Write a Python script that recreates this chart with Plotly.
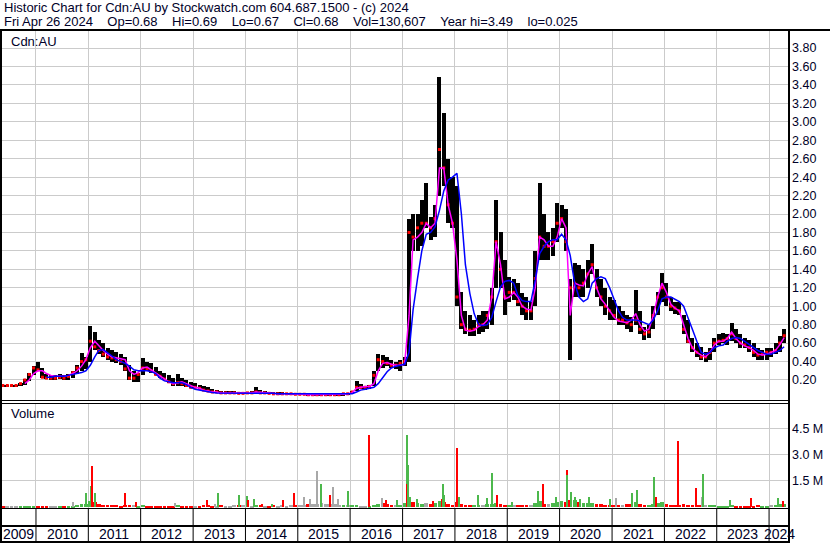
import plotly.graph_objects as go
import pandas as pd

# ---------------- data ----------------
first_month = "2009-05-01"
price_high = [
    0.15, 0.15, 0.15, 0.15, 0.17, 0.21, 0.28, 0.35,
    0.39, 0.33, 0.26, 0.25, 0.25, 0.26, 0.25, 0.26, 0.30, 0.36, 0.49, 0.45,
    0.79, 0.72, 0.63, 0.60, 0.55, 0.52, 0.50, 0.48, 0.45, 0.36, 0.30, 0.28,
    0.44, 0.40, 0.38, 0.34, 0.30, 0.28, 0.25, 0.22, 0.27, 0.22, 0.20, 0.18,
    0.17, 0.15, 0.13, 0.12, 0.10, 0.09, 0.08, 0.08, 0.08, 0.08, 0.07, 0.07,
    0.07, 0.08, 0.12, 0.09, 0.08, 0.07, 0.07, 0.07, 0.07, 0.06, 0.06, 0.06,
    0.06, 0.06, 0.05, 0.06, 0.05, 0.05, 0.05, 0.05, 0.05, 0.05, 0.06, 0.06,
    0.08, 0.19, 0.16, 0.14, 0.15, 0.30, 0.48, 0.47, 0.45, 0.42, 0.40, 0.42,
    0.45, 1.95, 2.00, 2.00, 2.15, 2.34, 1.97, 2.10, 3.49, 3.10, 2.60, 2.40,
    2.30, 1.15, 0.95, 0.90, 0.85, 0.90, 0.95, 0.95, 1.20, 2.15, 1.80, 1.50,
    1.32, 1.30, 1.25, 1.14, 1.10, 1.05, 1.60, 2.34, 2.00, 1.80, 1.85, 2.12,
    2.10, 2.05, 1.30, 1.47, 1.45, 1.40, 1.50, 1.68, 1.40, 1.30, 1.20, 1.10,
    1.07, 1.00, 0.95, 0.90, 0.88, 1.18, 0.95, 0.78, 0.80, 1.00, 1.15, 1.36,
    1.25, 1.10, 1.05, 1.05, 0.90, 0.85, 0.65, 0.60, 0.56, 0.50, 0.55, 0.65,
    0.70, 0.71, 0.70, 0.82, 0.75, 0.70, 0.65, 0.63, 0.60, 0.55, 0.52, 0.55,
    0.55, 0.60, 0.68, 0.75,
]
price_low = [
    0.13, 0.13, 0.13, 0.13, 0.14, 0.15, 0.19, 0.25,
    0.30, 0.22, 0.21, 0.20, 0.20, 0.21, 0.20, 0.20, 0.22, 0.27, 0.30, 0.32,
    0.40, 0.52, 0.48, 0.45, 0.42, 0.40, 0.38, 0.36, 0.30, 0.20, 0.18, 0.18,
    0.25, 0.30, 0.28, 0.25, 0.22, 0.20, 0.17, 0.14, 0.13, 0.14, 0.12, 0.11,
    0.11, 0.10, 0.09, 0.08, 0.07, 0.06, 0.05, 0.05, 0.05, 0.05, 0.05, 0.05,
    0.05, 0.05, 0.06, 0.05, 0.05, 0.05, 0.05, 0.04, 0.04, 0.04, 0.04, 0.04,
    0.04, 0.04, 0.03, 0.03, 0.03, 0.03, 0.025, 0.03, 0.03, 0.03, 0.03, 0.04,
    0.05, 0.08, 0.10, 0.09, 0.10, 0.13, 0.30, 0.33, 0.35, 0.33, 0.32, 0.30,
    0.35, 0.40, 1.60, 1.60, 1.65, 1.85, 1.72, 1.75, 2.20, 2.30, 1.90, 1.85,
    1.00, 0.75, 0.70, 0.68, 0.68, 0.70, 0.72, 0.75, 0.80, 1.20, 1.20, 0.90,
    1.05, 1.07, 1.00, 0.90, 0.85, 0.85, 1.00, 1.50, 1.50, 1.50, 1.55, 1.70,
    1.85, 1.60, 0.42, 1.10, 1.10, 1.10, 1.20, 1.35, 1.10, 1.00, 0.90, 0.85,
    0.85, 0.80, 0.80, 0.75, 0.72, 0.80, 0.70, 0.63, 0.65, 0.75, 0.90, 1.05,
    1.00, 0.95, 0.92, 0.90, 0.70, 0.60, 0.50, 0.45, 0.42, 0.40, 0.42, 0.50,
    0.58, 0.60, 0.58, 0.62, 0.60, 0.55, 0.55, 0.50, 0.45, 0.42, 0.42, 0.42,
    0.45, 0.48, 0.50, 0.60,
]
price_close = [
    0.14, 0.14, 0.14, 0.14, 0.16, 0.20, 0.26, 0.33,
    0.31, 0.23, 0.22, 0.22, 0.22, 0.23, 0.22, 0.24, 0.28, 0.33, 0.40, 0.42,
    0.62, 0.56, 0.52, 0.48, 0.45, 0.44, 0.42, 0.40, 0.32, 0.22, 0.22, 0.26,
    0.33, 0.32, 0.30, 0.26, 0.24, 0.21, 0.18, 0.16, 0.17, 0.16, 0.14, 0.12,
    0.12, 0.11, 0.09, 0.08, 0.07, 0.07, 0.06, 0.06, 0.06, 0.06, 0.055, 0.055,
    0.06, 0.06, 0.07, 0.06, 0.06, 0.055, 0.05, 0.05, 0.05, 0.05, 0.05, 0.045,
    0.045, 0.045, 0.04, 0.04, 0.04, 0.04, 0.04, 0.04, 0.04, 0.04, 0.05, 0.05,
    0.07, 0.12, 0.12, 0.12, 0.13, 0.25, 0.42, 0.40, 0.38, 0.36, 0.36, 0.38,
    0.40, 1.80, 1.75, 1.85, 1.90, 1.90, 1.85, 1.95, 2.70, 2.50, 2.10, 1.90,
    1.10, 0.80, 0.75, 0.74, 0.75, 0.80, 0.80, 0.90, 1.10, 1.70, 1.40, 1.10,
    1.15, 1.15, 1.05, 1.00, 0.95, 0.95, 1.30, 1.75, 1.65, 1.65, 1.70, 1.90,
    1.95, 1.70, 1.20, 1.25, 1.20, 1.25, 1.35, 1.45, 1.20, 1.10, 1.00, 0.95,
    0.90, 0.85, 0.85, 0.82, 0.80, 0.85, 0.75, 0.70, 0.72, 0.90, 1.10, 1.20,
    1.10, 1.00, 0.98, 0.95, 0.75, 0.62, 0.55, 0.50, 0.45, 0.45, 0.50, 0.60,
    0.62, 0.63, 0.65, 0.70, 0.65, 0.60, 0.58, 0.55, 0.50, 0.47, 0.48, 0.50,
    0.50, 0.52, 0.60, 0.68,
]
ma_fast = [
    None, None, None, None, None, 0.16, 0.20, 0.27,
    0.30, 0.30, 0.27, 0.25, 0.24, 0.24, 0.24, 0.25, 0.27, 0.30, 0.35, 0.42,
    0.55, 0.62, 0.57, 0.52, 0.48, 0.45, 0.44, 0.43, 0.42, 0.30, 0.26, 0.28,
    0.33, 0.34, 0.31, 0.27, 0.24, 0.21, 0.18, 0.16, 0.17, 0.18, 0.16, 0.14,
    0.12, 0.11, 0.09, 0.08, 0.07, 0.07, 0.06, 0.06, 0.06, 0.06, 0.055, 0.055,
    0.055, 0.06, 0.07, 0.065, 0.06, 0.055, 0.05, 0.05, 0.05, 0.05, 0.05, 0.045,
    0.045, 0.045, 0.04, 0.04, 0.04, 0.04, 0.04, 0.04, 0.04, 0.04, 0.045, 0.05,
    0.06, 0.11, 0.12, 0.13, 0.13, 0.16, 0.30, 0.38, 0.39, 0.37, 0.36, 0.36,
    0.37, 0.90, 1.72, 1.75, 1.80, 1.90, 1.85, 1.90, 2.50, 2.50, 2.10, 1.90,
    1.50, 0.90, 0.74, 0.73, 0.74, 0.78, 0.80, 0.85, 1.10, 1.70, 1.45, 1.08,
    1.10, 1.15, 1.10, 1.00, 0.97, 0.96, 1.20, 1.75, 1.72, 1.65, 1.65, 1.75,
    1.95, 1.85, 0.90, 1.25, 1.23, 1.22, 1.35, 1.43, 1.20, 1.08, 1.02, 0.95,
    0.88, 0.84, 0.83, 0.82, 0.85, 0.92, 0.80, 0.73, 0.75, 0.90, 1.10, 1.25,
    1.15, 1.02, 0.98, 0.95, 0.80, 0.65, 0.55, 0.50, 0.47, 0.45, 0.50, 0.58,
    0.62, 0.62, 0.65, 0.72, 0.65, 0.60, 0.57, 0.55, 0.52, 0.48, 0.47, 0.48,
    0.50, 0.52, 0.58, 0.66,
]
ma_slow = [
    None, None, None, None, None, None, None, None,
    None, None, 0.23, 0.23, 0.24, 0.24, 0.24, 0.25, 0.26, 0.27, 0.28, 0.30,
    0.36, 0.45, 0.52, 0.53, 0.50, 0.46, 0.42, 0.40, 0.38, 0.35, 0.31, 0.30,
    0.30, 0.30, 0.29, 0.27, 0.22, 0.19, 0.18, 0.17, 0.17, 0.17, 0.15, 0.12,
    0.10, 0.09, 0.08, 0.07, 0.065, 0.06, 0.06, 0.055, 0.055, 0.055, 0.055, 0.055,
    0.055, 0.055, 0.06, 0.06, 0.06, 0.055, 0.055, 0.05, 0.05, 0.05, 0.05, 0.05,
    0.05, 0.045, 0.045, 0.045, 0.045, 0.045, 0.045, 0.045, 0.045, 0.045, 0.045, 0.045,
    0.05, 0.07, 0.09, 0.10, 0.11, 0.12, 0.16, 0.22, 0.29, 0.33, 0.35, 0.36,
    0.37, 0.50, 0.96, 1.30, 1.60, 1.78, 1.80, 1.86, 2.04, 2.25, 2.37, 2.40,
    2.44, 2.00, 1.45, 1.14, 0.92, 0.80, 0.79, 0.80, 0.88, 1.05, 1.21, 1.27,
    1.28, 1.25, 1.12, 1.06, 1.05, 1.05, 1.28, 1.57, 1.65, 1.70, 1.72, 1.72,
    1.78, 1.72, 1.55, 1.25, 1.10, 1.05, 1.08, 1.25, 1.30, 1.32, 1.30, 1.20,
    1.08, 0.95, 0.88, 0.85, 0.85, 0.85, 0.84, 0.82, 0.80, 0.85, 0.95, 1.08,
    1.10, 1.10, 1.08, 1.05, 1.00, 0.88, 0.75, 0.62, 0.50, 0.48, 0.50, 0.55,
    0.57, 0.58, 0.62, 0.65, 0.66, 0.65, 0.62, 0.58, 0.55, 0.52, 0.50, 0.48,
    0.48, 0.50, 0.52, 0.56,
]
# typical daily volume per month, in millions of shares
vol_base = [
    0.03, 0.03, 0.03, 0.03, 0.03, 0.03, 0.03, 0.03,
    0.04, 0.04, 0.05, 0.05, 0.05, 0.06, 0.06, 0.08, 0.10, 0.12, 0.20, 0.20,
    0.35, 0.30, 0.20, 0.15, 0.15, 0.12, 0.12, 0.10, 0.12, 0.15, 0.12, 0.10,
    0.12, 0.10, 0.08, 0.08, 0.08, 0.08, 0.10, 0.10, 0.12, 0.10, 0.08, 0.08,
    0.10, 0.10, 0.12, 0.12, 0.10, 0.10, 0.12, 0.10, 0.10, 0.12, 0.15, 0.12,
    0.12, 0.10, 0.15, 0.12, 0.10, 0.10, 0.12, 0.10, 0.12, 0.10, 0.12, 0.15,
    0.15, 0.15, 0.20, 0.20, 0.20, 0.25, 0.20, 0.20, 0.20, 0.15, 0.15, 0.15,
    0.12, 0.15, 0.10, 0.10, 0.10, 0.15, 0.20, 0.25, 0.20, 0.15, 0.15, 0.15,
    0.25, 0.60, 0.30, 0.25, 0.20, 0.25, 0.20, 0.25, 0.35, 0.30, 0.20, 0.15,
    0.30, 0.20, 0.15, 0.12, 0.12, 0.12, 0.15, 0.20, 0.20, 0.25, 0.20, 0.15,
    0.15, 0.12, 0.12, 0.12, 0.15, 0.15, 0.25, 0.35, 0.20, 0.20, 0.25, 0.30,
    0.35, 0.30, 0.40, 0.40, 0.30, 0.25, 0.25, 0.25, 0.20, 0.20, 0.15, 0.15,
    0.15, 0.12, 0.15, 0.20, 0.20, 0.30, 0.20, 0.15, 0.15, 0.20, 0.25, 0.30,
    0.20, 0.15, 0.12, 0.12, 0.20, 0.15, 0.15, 0.15, 0.12, 0.12, 0.12, 0.12,
    0.10, 0.10, 0.10, 0.12, 0.10, 0.08, 0.08, 0.10, 0.10, 0.12, 0.10, 0.10,
    0.12, 0.12, 0.20, 0.20,
]
# single heavy-volume days (millions) with their bar colour: g=up, r=down, k=unchanged
spike_dates = [
    "2010-09-15", "2010-12-15", "2011-01-20", "2011-01-26", "2011-02-16", "2011-09-13",
    "2011-11-28", "2012-08-27", "2013-04-08", "2013-06-02", "2013-06-24", "2013-11-15",
    "2014-01-12", "2014-01-20", "2014-03-01", "2014-04-26", "2014-07-04", "2014-09-19",
    "2014-12-05", "2015-02-13", "2015-03-27", "2015-05-15", "2015-06-12", "2015-08-13",
    "2015-09-03", "2015-10-08", "2015-12-17", "2016-05-12", "2016-08-11", "2016-09-08",
    "2016-11-23", "2017-02-01", "2017-02-05", "2017-02-09", "2017-04-12", "2017-08-01",
    "2017-10-03", "2017-10-10", "2017-10-20", "2018-01-15", "2018-01-29", "2018-06-10",
    "2018-08-12", "2018-09-16", "2018-10-21", "2019-02-03", "2019-08-03", "2019-09-07",
    "2019-12-06", "2020-02-21", "2020-02-25", "2020-03-21", "2020-04-18", "2020-05-22",
    "2020-07-24", "2020-12-18", "2021-01-29", "2021-05-20", "2021-06-24", "2021-10-21",
    "2021-11-04", "2022-04-06", "2022-08-09", "2022-09-20", "2022-09-27", "2023-04-04",
    "2023-08-28", "2024-03-03", "2024-04-08",
]
spike_vol = [
    0.30, 0.80, 1.20, 2.37, 0.80, 0.80,
    0.30, 0.25, 0.40, 0.20, 0.80, 0.70,
    0.65, 0.40, 0.45, 0.20, 0.20, 0.40,
    0.80, 0.60, 0.45, 2.07, 1.30, 0.70,
    1.15, 0.45, 0.90, 4.10, 0.55, 0.40,
    0.40, 4.15, 1.30, 2.40, 0.45, 0.35,
    0.45, 1.35, 0.70, 3.40, 0.60, 0.70,
    0.55, 1.95, 0.70, 0.30, 0.95, 1.30,
    0.60, 2.10, 1.85, 0.85, 0.60, 0.45,
    0.60, 0.45, 0.50, 0.80, 1.00, 1.75,
    0.60, 3.80, 1.10, 0.60, 1.90, 0.40,
    0.55, 0.55, 0.35,
]
spike_kind = [
    "k", "g", "g", "r", "g", "r",
    "r", "k", "r", "k", "g", "g",
    "g", "r", "g", "r", "g", "r",
    "r", "k", "k", "k", "g", "r",
    "k", "k", "g", "r", "k", "r",
    "g", "g", "r", "g", "g", "r",
    "r", "g", "g", "r", "g", "g",
    "g", "g", "r", "g", "g", "r",
    "g", "r", "g", "g", "g", "g",
    "g", "g", "k", "g", "g", "g",
    "r", "r", "r", "k", "g", "g",
    "r", "g", "r",
]
years = list(range(2009, 2025))
price_ticks = [0.20, 0.40, 0.60, 0.80, 1.00, 1.20, 1.40, 1.60, 1.80, 2.00,
               2.20, 2.40, 2.60, 2.80, 3.00, 3.20, 3.40, 3.60, 3.80]
vol_ticks = [1.5, 3.0, 4.5]
vol_tick_text = ["1.5 M", "3.0 M", "4.5 M"]
GAP = "\u00a0\u00a0\u00a0\u00a0"
header_1 = "Historic Chart for Cdn:AU by Stockwatch.com 604.687.1500 - (c) 2024"
header_2 = GAP.join(["Fri Apr 26 2024", "Op=0.68", "Hi=0.69", "Lo=0.67", "Cl=0.68",
                     "Vol=130,607", "Year hi=3.49", "lo=0.025"])

# ---------------- layout geometry (pixels) ----------------
W, H = 830, 543
PL, PR, PT, PB = 1, 789, 31, 509
PRICE_BOTTOM = 401
VOL_TOP = 403


def px_x(px):
    return (px - PL) / (PR - PL)


def px_y(py):
    return (PB - py) / (PB - PT)


x_start = pd.Timestamp("2009-05-02")
x_end = pd.Timestamp("2024-05-19")

months = pd.date_range(first_month, periods=len(price_high), freq="MS") + pd.Timedelta(days=14)
year_starts = [pd.Timestamp(f"{y}-01-01") for y in years[1:]]

GREEN, RED, GRAY = "#4cb84c", "#ff0000", "#a8a8a8"
kind_color = {"g": GREEN, "r": RED, "k": GRAY}
TXT = "#000028"
FONT = "Liberation Sans, Arial, sans-serif"

fig = go.Figure()

# price range bars
fig.add_trace(go.Bar(
    x=months, y=[h - l for h, l in zip(price_high, price_low)], base=price_low,
    width=28 * 86400000, marker=dict(color="#000000", line=dict(width=0)),
    xaxis="x", yaxis="y", showlegend=False, hoverinfo="skip"))
# closes
fig.add_trace(go.Scatter(
    x=months, y=price_close, mode="markers",
    marker=dict(color=RED, size=3, symbol="square", line=dict(width=0)),
    xaxis="x", yaxis="y", showlegend=False, hoverinfo="skip"))
# moving averages
fig.add_trace(go.Scatter(
    x=months, y=ma_fast, mode="lines", line=dict(color="#ff00ff", width=1.5),
    xaxis="x", yaxis="y", showlegend=False, hoverinfo="skip"))
fig.add_trace(go.Scatter(
    x=months, y=ma_slow, mode="lines", line=dict(color="#0000ff", width=1.5),
    xaxis="x", yaxis="y", showlegend=False, hoverinfo="skip"))

# volume: monthly typical bars coloured by month direction
base_colors = []
prev = None
for c in price_close:
    if prev is None:
        base_colors.append(RED)
    elif c > prev:
        base_colors.append(GREEN)
    elif c < prev:
        base_colors.append(RED)
    else:
        base_colors.append(GRAY)
    prev = c
fig.add_trace(go.Bar(
    x=months, y=[v * 1e6 for v in vol_base], width=26 * 86400000,
    marker=dict(color=base_colors, line=dict(width=0)),
    xaxis="x2", yaxis="y2", showlegend=False, hoverinfo="skip"))
fig.add_trace(go.Bar(
    x=pd.to_datetime(spike_dates), y=[v * 1e6 for v in spike_vol], width=9 * 86400000,
    marker=dict(color=[kind_color[k] for k in spike_kind], line=dict(width=0)),
    xaxis="x2", yaxis="y2", showlegend=False, hoverinfo="skip"))

GRID = "#cbcbcb"
common_x = dict(range=[x_start, x_end], tickvals=year_starts, showticklabels=False,
                showgrid=True, gridcolor=GRID, gridwidth=1, ticks="", zeroline=False,
                showline=False, fixedrange=True)

fig.update_layout(
    width=W, height=H,
    margin=dict(l=PL, r=W - PR, t=PT, b=H - PB, pad=0),
    paper_bgcolor="white", plot_bgcolor="white",
    barmode="overlay", bargap=0,
    font=dict(family=FONT, size=13, color=TXT),
    xaxis=dict(domain=[0, 1], anchor="y", **common_x),
    xaxis2=dict(domain=[0, 1], anchor="y2", matches="x", **common_x),
    yaxis=dict(domain=[px_y(PRICE_BOTTOM), 1], range=[-0.028, 3.985], side="right",
               tickvals=price_ticks, tickformat=".2f", showgrid=True, gridcolor=GRID,
               gridwidth=1, ticks="", zeroline=False, showline=False, automargin=False,
               tickfont=dict(family=FONT, size=12.5, color=TXT), ticklabelstandoff=2),
    yaxis2=dict(domain=[0, px_y(VOL_TOP)], range=[-0.1e6, 5.95e6], side="right",
                tickvals=[v * 1e6 for v in vol_ticks], ticktext=vol_tick_text,
                showgrid=True, gridcolor=GRID, gridwidth=1, ticks="", zeroline=False,
                showline=False, automargin=False,
                tickfont=dict(family=FONT, size=12.5, color=TXT), ticklabelstandoff=2),
)

shapes = []


def hline(py, x0px, x1px, w):
    shapes.append(dict(type="line", xref="paper", yref="paper",
                       x0=px_x(x0px), x1=px_x(x1px), y0=px_y(py), y1=px_y(py),
                       line=dict(color="black", width=w)))


def vline(px, y0px, y1px, w):
    shapes.append(dict(type="line", xref="paper", yref="paper",
                       x0=px_x(px), x1=px_x(px), y0=px_y(y0px), y1=px_y(y1px),
                       line=dict(color="black", width=w)))


hline(30, 0, 830, 2)
hline(400.5, 0, PR, 1)
hline(403.5, 0, PR, 1)
hline(508.5, 0, PR, 1)
hline(526, 0, PR, 2)
hline(542, 0, PR, 2)
vline(1, 30, 543, 2)
vline(789, 30, 543, 2)
for ys in year_starts:
    shapes.append(dict(type="line", xref="x", yref="paper", x0=ys, x1=ys,
                       y0=px_y(543), y1=px_y(509), line=dict(color="black", width=1)))
fig.update_layout(shapes=shapes)

ann = []
ann.append(dict(text=header_1, xref="paper", yref="paper", x=px_x(2), y=px_y(7.5),
                xanchor="left", yanchor="middle", showarrow=False,
                font=dict(family=FONT, size=13, color=TXT)))
ann.append(dict(text=header_2, xref="paper", yref="paper", x=px_x(2), y=px_y(21.5),
                xanchor="left", yanchor="middle", showarrow=False,
                font=dict(family=FONT, size=13, color=TXT)))
ann.append(dict(text="Cdn:AU", xref="paper", yref="paper", x=px_x(9), y=px_y(41),
                xanchor="left", yanchor="middle", showarrow=False,
                font=dict(family=FONT, size=13, color=TXT)))
ann.append(dict(text="Volume", xref="paper", yref="paper", x=px_x(9), y=px_y(413),
                xanchor="left", yanchor="middle", showarrow=False,
                font=dict(family=FONT, size=13, color=TXT)))
# year labels centred on the visible part of each year
for y in years:
    a = max(pd.Timestamp(f"{y}-01-01"), x_start)
    b = min(pd.Timestamp(f"{y + 1}-01-01"), x_end)
    mid = a + (b - a) / 2
    ann.append(dict(text=str(y), xref="x", yref="paper", x=mid, y=px_y(534),
                    xanchor="center", yanchor="middle", showarrow=False,
                    font=dict(family=FONT, size=14, color=TXT)))
fig.update_layout(annotations=ann)

fig.write_html(
    "out.html",
    config={"displayModeBar": False},
    post_script="document.body.style.margin='0';document.body.style.overflow='hidden';",
)
